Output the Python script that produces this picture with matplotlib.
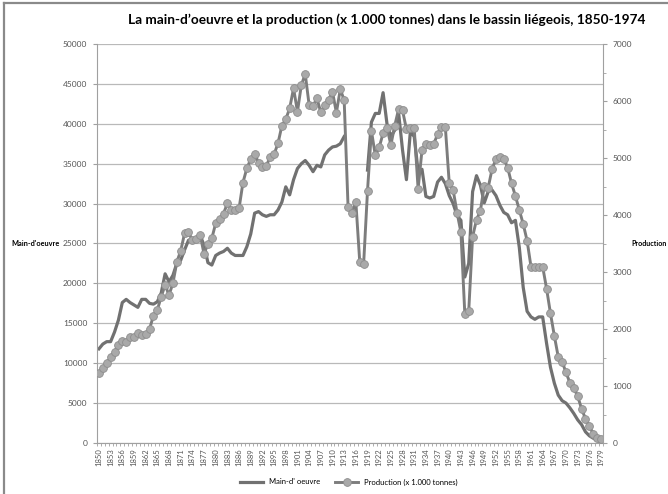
import numpy as np
import matplotlib
matplotlib.use('Agg')
import matplotlib.pyplot as plt
from matplotlib.lines import Line2D

# Données (1850-1979)
annees = list(range(1850, 1980))

main_oeuvre = [
    11800, 12400, 12700, 12700, 13900, 15400, 17600, 18000, 17600, 17300,  # 1850-1859
    17000, 18000, 18000, 17500, 17400, 17700, 18800, 21200, 20200, 21000,  # 1860-1869
    22500, 22900, 24200, 25400, 25600, 25500, 26000, 24800, 22600, 22300,  # 1870-1879
    23500, 23800, 24000, 24400, 23800, 23500, 23500, 23500, 24600, 26200,  # 1880-1889
    28800, 29000, 28600, 28400, 28600, 28600, 29200, 30200, 32100, 31100,  # 1890-1899
    33000, 34400, 35000, 35400, 34800, 34000, 34800, 34600, 36100, 36700,  # 1900-1909
    37100, 37200, 37500, 38400, np.nan, np.nan, np.nan, np.nan, np.nan, 34200,  # 1910-1919
    40200, 41300, 41300, 43900, 40000, 38400, 39200, 41300, 36700, 33000,  # 1920-1929
    39000, 38400, 34000, 34300, 30900, 30700, 30900, 32700, 33300, 32500,  # 1930-1939
    31000, 30000, 28500, 27900, 20800, 22500, 31500, 33500, 32300, 30100,  # 1940-1949
    31500, 31700, 31000, 29800, 28900, 28600, 27600, 27900, 24500, 19500,  # 1950-1959
    16500, 15800, 15500, 15800, 15800, 12500, 9500, 7500, 6000, 5300,      # 1960-1969
    5000, 4400, 3700, 2900, 2300, 1400, 900, 600, 350, 100,                # 1970-1979
]

production = [
    1233, 1310, 1398, 1503, 1602, 1719, 1795, 1767, 1854, 1854,  # 1850-1859
    1924, 1895, 1907, 2000, 2233, 2333, 2567, 2772, 2596, 2801,  # 1860-1869
    3175, 3370, 3678, 3693, 3561, 3580, 3655, 3316, 3497, 3591,  # 1870-1879
    3855, 3930, 4025, 4205, 4088, 4095, 4117, 4570, 4819, 4980,  # 1880-1889
    5075, 4915, 4850, 4860, 5023, 5065, 5258, 5567, 5679, 5872,  # 1890-1899
    6223, 5813, 6281, 6474, 5930, 5912, 6047, 5802, 5930, 6018,  # 1900-1909
    6164, 5795, 6205, 6018, 4146, 4030, 4233, 3181, 3140, 4426,  # 1910-1919
    5480, 5045, 5187, 5433, 5535, 5228, 5570, 5860, 5835, 5503,  # 1920-1929
    5520, 5520, 4456, 5140, 5250, 5222, 5245, 5415, 5538, 5538,  # 1930-1939
    4556, 4439, 4041, 3696, 2263, 2310, 3620, 3915, 4076, 4510,  # 1940-1949
    4480, 4805, 4982, 5023, 4990, 4833, 4556, 4333, 4088, 3842,  # 1950-1959
    3549, 3093, 3093, 3093, 3093, 2710, 2275, 1880, 1510, 1427,  # 1960-1969
    1237, 1055, 965, 820, 600, 425, 292, 165, 88, 68,            # 1970-1979
]

titre = "La main-d\u2019oeuvre et la production (x 1.000 tonnes) dans le bassin liégeois, 1850-1974"

plt.rcParams['font.family'] = ['Lato', 'DejaVu Sans']

fig = plt.figure(figsize=(6.68, 4.94), dpi=100)
ax = fig.add_axes([97 / 668, 1 - 443 / 494, 506 / 668, 399 / 494])
ax2 = ax.twinx()

x = np.arange(len(annees))

# Grille et axes
ax.set_xlim(-0.5, len(annees) - 0.5)
ax.set_ylim(0, 50000)
ax2.set_ylim(0, 7000)
ax.set_yticks(range(0, 50001, 5000))
ax2.set_yticks(range(0, 7001, 1000))
ax2.set_yticks(range(500, 7000, 1000), minor=True)
ax.yaxis.grid(True, color='#b9b9b9', lw=0.9)
ax.set_axisbelow(True)

# Courbes
l1, = ax.plot(x, main_oeuvre, color='#717171', lw=2.3, label="Main-d' oeuvre")
l2, = ax2.plot(x, production, color='#7d7d7d', lw=2.1, marker='o', ms=5.6,
               mfc='#a9a9a9', mec='#8d8d8d', mew=0.6,
               label='Production (x 1.000 tonnes)')

# Axe des x : une étiquette tous les 3 ans
ax.set_xticks(x[::3])
ax.set_xticklabels([str(a) for a in annees[::3]], rotation=90)
ax.set_xticks(np.arange(-0.5, len(annees), 1), minor=True)
ax.tick_params(axis='x', which='major', length=0, labelsize=5.5, labelcolor='#555555', pad=4)
ax.tick_params(axis='x', which='minor', length=2.5, color='#a0a0a0', width=0.6)
ax.tick_params(axis='y', labelsize=6, labelcolor='#555555', length=3, color='#a0a0a0', pad=4)
ax2.tick_params(axis='y', which='both', labelsize=6, labelcolor='#555555', color='#a0a0a0', pad=4)
ax2.tick_params(axis='y', which='major', length=3)
ax2.tick_params(axis='y', which='minor', length=2)

for a in (ax, ax2):
    a.spines['top'].set_visible(False)
ax.spines['right'].set_visible(False)
ax2.spines['left'].set_visible(False)
ax2.spines['bottom'].set_visible(False)
ax.spines['left'].set_color('#a0a0a0')
ax.spines['bottom'].set_color('#a0a0a0')
ax2.spines['right'].set_color('#a0a0a0')

# Titres
fig.text(387 / 668, 1 - 20 / 494, titre, ha='center', va='center', fontsize=9.8, fontweight='bold')
fig.text(60 / 668, 1 - 243 / 494, "Main-d'oeuvre", ha='right', va='center', fontsize=5.3, fontweight='bold')
fig.text(631 / 668, 1 - 243 / 494, 'Production', ha='left', va='center', fontsize=5.1, fontweight='bold')

# Légende
fig.legend([l1, l2], [l1.get_label(), l2.get_label()], loc='center',
           bbox_to_anchor=(0.522, 1 - 482 / 494), ncol=2, frameon=False,
           fontsize=5.5, handlelength=3, columnspacing=2)

# Cadre
fig.add_artist(Line2D([0.006, 0.006], [0, 0.993], transform=fig.transFigure, color='#8a8a8a', lw=1.6))
fig.add_artist(Line2D([0.006, 1], [0.993, 0.993], transform=fig.transFigure, color='#8a8a8a', lw=1.6))

fig.savefig('out.png', dpi=100)
